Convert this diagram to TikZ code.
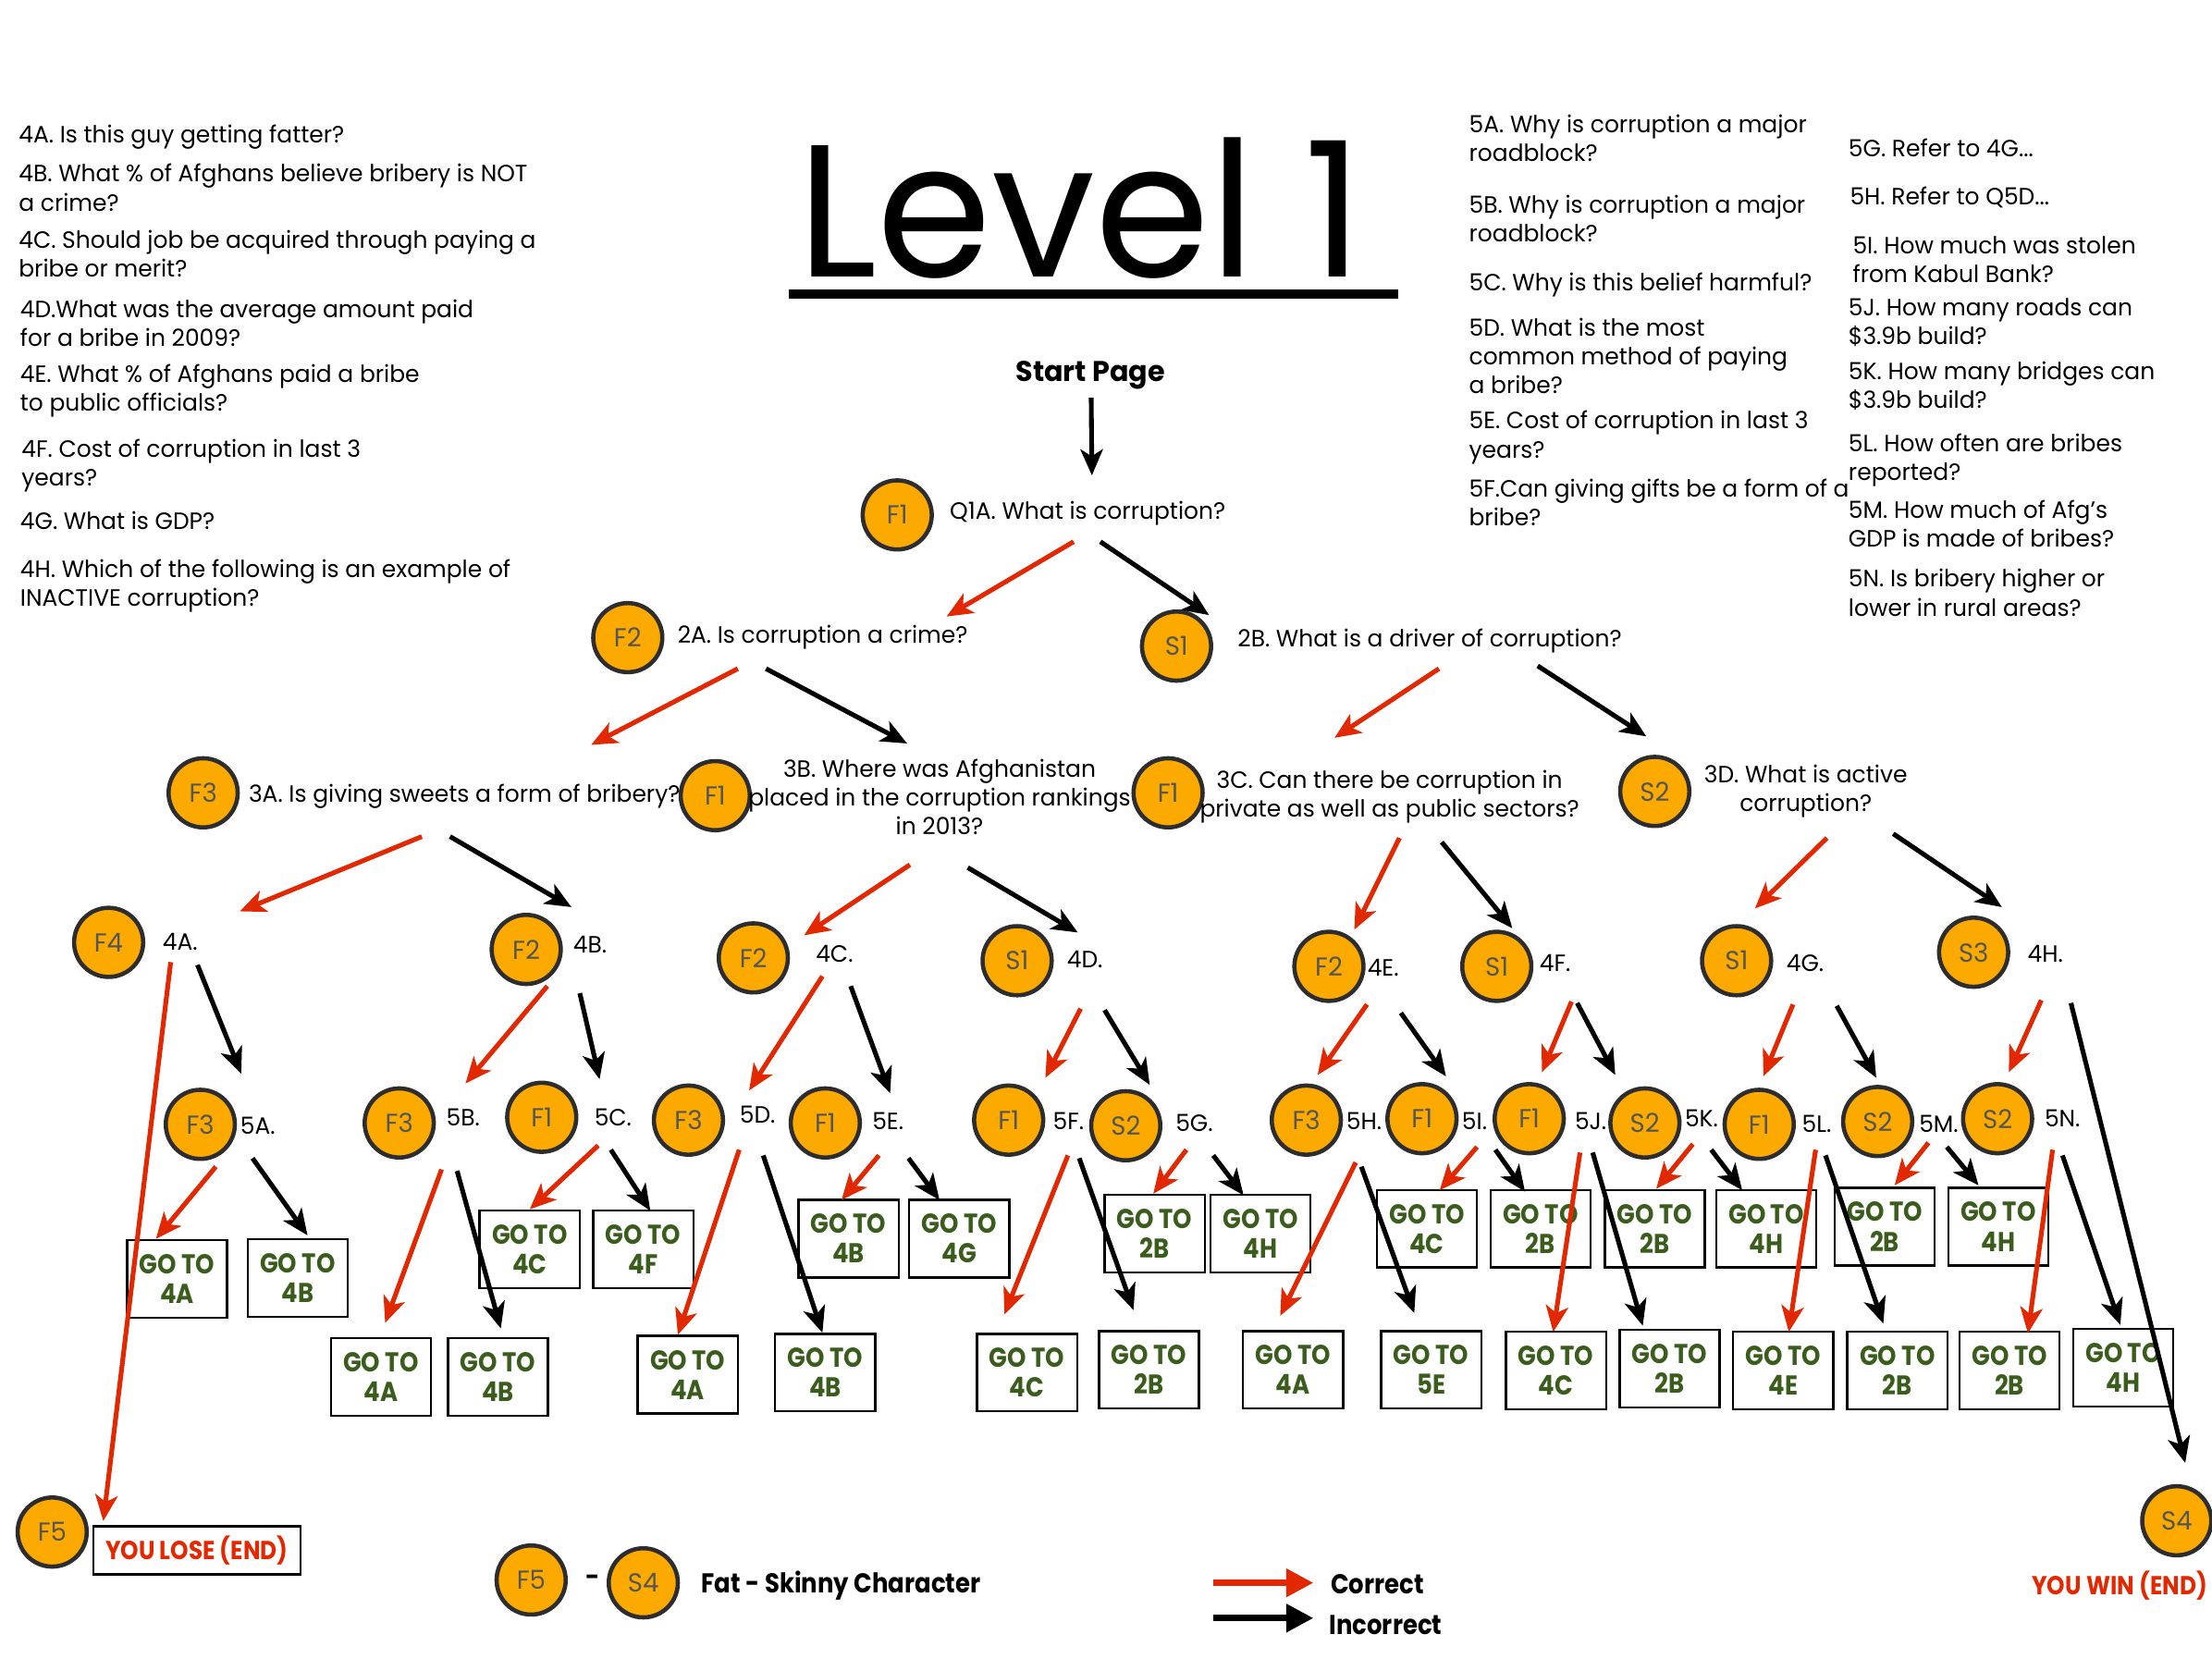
\documentclass[tikz,border=0pt]{standalone}
\usepackage{fontspec}
\setmainfont{Poppins}[FakeStretch=0.98]
\newfontfamily\narrowbold{Poppins}[FakeStretch=0.88]
\usetikzlibrary{arrows.meta}
\definecolor{charOrange}{RGB}{252,170,0}
\definecolor{ringGray}{RGB}{45,45,45}
\definecolor{tagGray}{RGB}{85,85,85}
\definecolor{okRed}{RGB}{226,40,0}
\definecolor{goGreen}{RGB}{58,92,28}
\newcommand{\qsize}{\fontsize{9.5}{11.7}\selectfont}
\newcommand{\arrowlink}[5]{\draw[#1] ([shift={#3}]#2) -- ([shift={#5}]#4);}

\begin{document}
\begin{tikzpicture}[x=0.02cm, y=-0.02cm,
  avatar/.style={circle, draw=ringGray, line width=1.7pt, fill=charOrange,
                 minimum size=0.98cm, inner sep=0pt, text=tagGray, font=\fontsize{10.5}{11}\selectfont},
  qlabel/.style={inner sep=0pt, anchor=west, font=\qsize, text height=6.6pt, text depth=0pt},
  qmulti/.style={inner sep=0pt, align=center, font=\qsize},
  side/.style={inner sep=0pt, align=left, anchor=north west, font=\qsize},
  gobox/.style={draw, line width=0.9pt, minimum width=1.42cm, minimum height=1.1cm, inner sep=0pt,
                align=center, text=goGreen, font=\narrowbold\bfseries\fontsize{11}{12}\selectfont},
  redarr/.style={draw=okRed, line width=1.9pt, -{Stealth[length=10.5pt, width=9pt, inset=2.8pt]}},
  blackarr/.style={draw=black, line width=1.9pt, -{Stealth[length=10.5pt, width=9pt, inset=2.8pt]}},
  legendarr/.style={line width=2.5pt, -{Triangle[length=11pt, width=11pt]}},
]
\useasboundingbox (0,0) rectangle (1568,1176);

% --- title ---
\node[inner sep=0pt, anchor=base west, font=\fontsize{76}{80}\selectfont] (title) at (565,196) {Level 1};
\draw[line width=4pt] (559,208.5) -- (991,208.5);
\node[font=\bfseries\fontsize{11.5}{14}\selectfont] (start) at (773,266) {Start Page};

% --- question notes, left ---
\node[side] (n4a) at (13,88) {4A. Is this guy getting fatter?};
\node[side] (n4b) at (13,116) {4B. What \% of Afghans believe bribery is NOT\\a crime?};
\node[side] (n4c) at (13,163) {4C. Should job be acquired through paying a\\bribe or merit?};
\node[side] (n4d) at (14,212) {4D.What was the average amount paid\\for a bribe in 2009?};
\node[side] (n4e) at (14,258) {4E. What \% of Afghans paid a bribe\\to public officials?};
\node[side] (n4f) at (15,311) {4F. Cost of corruption in last 3\\years?};
\node[side] (n4g) at (14,362) {4G. What is GDP?};
\node[side] (n4h) at (14,396) {4H. Which of the following is an example of\\INACTIVE corruption?};

% --- question notes, right ---
\node[side] (n5a) at (1041,81) {5A. Why is corruption a major\\roadblock?};
\node[side] (n5b) at (1041,138) {5B. Why is corruption a major\\roadblock?};
\node[side] (n5c) at (1041,193) {5C. Why is this belief harmful?};
\node[side] (n5d) at (1041,225) {5D. What is the most\\common method of paying\\a bribe?};
\node[side] (n5e) at (1041,291) {5E. Cost of corruption in last 3\\years?};
\node[side] (n5f) at (1041,339) {5F.Can giving gifts be a form of a\\bribe?};
\node[side] (n5g) at (1310,98) {5G. Refer to 4G...};
\node[side] (n5h) at (1311,132) {5H. Refer to Q5D...};
\node[side] (n5i) at (1313,167) {5I. How much was stolen\\from Kabul Bank?};
\node[side] (n5j) at (1310,211) {5J. How many roads can\\\$3.9b build?};
\node[side] (n5k) at (1310,256) {5K. How many bridges can\\\$3.9b build?};
\node[side] (n5l) at (1310,307) {5L. How often are bribes\\reported?};
\node[side] (n5m) at (1310,354) {5M. How much of Afg’s\\GDP is made of bribes?};
\node[side] (n5n) at (1310,403) {5N. Is bribery higher or\\lower in rural areas?};

% --- level 1 and 2 ---
\node[avatar] (c1a) at (636,365) {F1};
\node[qlabel] (q1a) at (673,362) {Q1A. What is corruption?};
\node[avatar] (c2a) at (445,452) {F2};
\node[qlabel] (q2a) at (480,450) {2A. Is corruption a crime?};
\node[avatar] (c2b) at (834,458) {S1};
\node[qlabel] (q2b) at (877,453) {2B. What is a driver of corruption?};

% --- level 3 ---
\node[avatar] (c3a) at (144,562) {F3};
\node[qlabel] (q3a) at (176,563) {3A. Is giving sweets a form of bribery?};
\node[avatar] (c3b) at (507,564) {F1};
\node[qmulti] (q3b) at (666,565) {3B. Where was Afghanistan\\placed in the corruption rankings\\in 2013?};
\node[avatar] (c3c) at (828,562) {F1};
\node[qmulti] (q3c) at (985,565) {3C. Can there be corruption in\\private as well as public sectors?};
\node[avatar] (c3d) at (1173,561) {S2};
\node[qmulti] (q3d) at (1280,561) {3D. What is active\\corruption?};

% --- level 4 ---
\node[avatar] (c4a) at (77,668) {F4};
\node[qlabel] (q4a) at (115,668) {4A.};
\node[avatar] (c4b) at (373,673) {F2};
\node[qlabel] (q4b) at (406,670) {4B.};
\node[avatar] (c4c) at (534,679) {F2};
\node[qlabel] (q4c) at (578,676) {4C.};
\node[avatar] (c4d) at (721,681) {S1};
\node[qlabel] (q4d) at (756,680) {4D.};
\node[avatar] (c4e) at (942,685) {F2};
\node[qlabel] (q4e) at (969,686) {4E.};
\node[avatar] (c4f) at (1061,685) {S1};
\node[qlabel] (q4f) at (1091,683) {4F.};
\node[avatar] (c4g) at (1231,681) {S1};
\node[qlabel] (q4g) at (1266,683) {4G.};
\node[avatar] (c4h) at (1399,675) {S3};
\node[qlabel] (q4h) at (1437,676) {4H.};

% --- level 5 ---
\node[avatar] (c5a) at (142,797) {F3};
\node[qlabel] (q5a) at (170,798) {5A.};
\node[avatar] (c5b) at (283,796) {F3};
\node[qlabel] (q5b) at (316,792) {5B.};
\node[avatar] (c5c) at (384,792) {F1};
\node[qlabel] (q5c) at (421,792) {5C.};
\node[avatar] (c5d) at (488,794) {F3};
\node[qlabel] (q5d) at (524,790) {5D.};
\node[avatar] (c5e) at (585,796) {F1};
\node[qlabel] (q5e) at (618,795) {5E.};
\node[avatar] (c5f) at (715,794) {F1};
\node[qlabel] (q5f) at (746,795) {5F.};
\node[avatar] (c5g) at (798,798) {S2};
\node[qlabel] (q5g) at (833,796) {5G.};
\node[avatar] (c5h) at (926,794) {F3};
\node[qlabel] (q5h) at (954,795) {5H.};
\node[avatar] (c5i) at (1008,793) {F1};
\node[qlabel] (q5i) at (1036,795) {5I.};
\node[avatar] (c5j) at (1084,793) {F1};
\node[qlabel] (q5j) at (1116,795) {5J.};
\node[avatar] (c5k) at (1166,796) {S2};
\node[qlabel] (q5k) at (1194,793) {5K.};
\node[avatar] (c5l) at (1247,797) {F1};
\node[qlabel] (q5l) at (1277,797) {5L.};
\node[avatar] (c5m) at (1331,795) {S2};
\node[qlabel] (q5m) at (1360,797) {5M.};
\node[avatar] (c5n) at (1416,793) {S2};
\node[qlabel] (q5n) at (1449,793) {5N.};

% --- go to boxes ---
\node[gobox] (g5ar) at (125.5,906.5) {GO TO\\4A};
\node[gobox] (g5aw) at (211,906) {GO TO\\4B};
\node[gobox] (g5br) at (270,976) {GO TO\\4A};
\node[gobox] (g5bw) at (353,976) {GO TO\\4B};
\node[gobox] (g5cr) at (375.5,885.5) {GO TO\\4C};
\node[gobox] (g5cw) at (456,885.5) {GO TO\\4F};
\node[gobox] (g5dr) at (487.5,974.5) {GO TO\\4A};
\node[gobox] (g5dw) at (585,973) {GO TO\\4B};
\node[gobox] (g5er) at (601.5,878) {GO TO\\4B};
\node[gobox] (g5ew) at (680,878) {GO TO\\4G};
\node[gobox] (g5fr) at (728,973) {GO TO\\4C};
\node[gobox] (g5fw) at (814.5,971) {GO TO\\2B};
\node[gobox] (g5gr) at (818.5,874.5) {GO TO\\2B};
\node[gobox] (g5gw) at (893.5,874.5) {GO TO\\4H};
\node[gobox] (g5hr) at (916.5,971) {GO TO\\4A};
\node[gobox] (g5hw) at (1014.5,971) {GO TO\\5E};
\node[gobox] (g5ir) at (1011.5,871) {GO TO\\4C};
\node[gobox] (g5iw) at (1092,871) {GO TO\\2B};
\node[gobox] (g5jr) at (1103,971.5) {GO TO\\4C};
\node[gobox] (g5jw) at (1183.5,970) {GO TO\\2B};
\node[gobox] (g5kr) at (1173,871) {GO TO\\2B};
\node[gobox] (g5kw) at (1252,871) {GO TO\\4H};
\node[gobox] (g5lr) at (1264,971.5) {GO TO\\4E};
\node[gobox] (g5lw) at (1345,971.5) {GO TO\\2B};
\node[gobox] (g5mr) at (1336,869.5) {GO TO\\2B};
\node[gobox] (g5mw) at (1416.5,869.5) {GO TO\\4H};
\node[gobox] (g5nr) at (1424.5,971.5) {GO TO\\2B};
\node[gobox] (g5nw) at (1505,969.5) {GO TO\\4H};

% --- endings ---
\node[avatar] (cf5) at (37,1086) {F5};
\node[draw, line width=0.9pt, minimum width=2.94cm, minimum height=0.68cm, inner sep=0pt, text=okRed,
      font=\narrowbold\bfseries\fontsize{10.5}{12}\selectfont] (lose) at (139.5,1099) {YOU LOSE (END)};
\node[avatar] (cs4) at (1543,1078) {S4};
\node[anchor=west, inner sep=0pt, text=okRed, font=\narrowbold\bfseries\fontsize{10.5}{12}\selectfont]
      (win) at (1440,1124) {YOU WIN (END)};

% --- legend ---
\node[avatar] (lgf5) at (376.5,1120) {F5};
\node[font=\bfseries\fontsize{10}{12}\selectfont] (lgdash) at (420,1120) {-};
\node[avatar] (lgs4) at (456,1122) {S4};
\node[anchor=west, inner sep=0pt, font=\narrowbold\bfseries\fontsize{11}{13}\selectfont] (lgfat) at (497,1124) {Fat - Skinny Character};
\node[anchor=west, inner sep=0pt, font=\narrowbold\bfseries\fontsize{11}{13}\selectfont] (lgcorr) at (943,1123) {Correct};
\node[anchor=west, inner sep=0pt, font=\narrowbold\bfseries\fontsize{11}{13}\selectfont] (lginc) at (942,1152) {Incorrect};
\draw[legendarr, okRed] ([shift={(-83,-1)}]lgcorr.west) -- ([shift={(-12,-1)}]lgcorr.west);
\draw[legendarr, black] ([shift={(-82,-5)}]lginc.west) -- ([shift={(-11,-5)}]lginc.west);

% --- arrows: start to level 2 ---
\arrowlink{blackarr}{start.center}{(0.5,16)}{q1a.west}{(101,-25)}
\arrowlink{redarr}{q1a.west}{(88,22)}{q2a.west}{(191,-13)}
\arrowlink{blackarr}{q1a.west}{(107,22)}{q2b.west}{(-20,-17)}
% --- level 2 to 3 ---
\arrowlink{redarr}{q2a.west}{(43,24)}{q3a.west}{(243,-35)}
\arrowlink{blackarr}{q2a.west}{(63,24)}{q3b.center}{(-23,-38)}
\arrowlink{redarr}{q2b.west}{(143,21)}{q3c.center}{(-39,-42)}
\arrowlink{blackarr}{q2b.west}{(213,19)}{c3d.center}{(-6,-39)}
% --- level 3 to 4 ---
\arrowlink{redarr}{q3a.west}{(123,30)}{q4a.west}{(55,-22)}
\arrowlink{blackarr}{q3a.west}{(143,30)}{q4b.west}{(-1,-27)}
\arrowlink{redarr}{q3b.center}{(-21,48)}{q4c.west}{(-8,-13)}
\arrowlink{blackarr}{q3b.center}{(20,50)}{q4d.west}{(8,-19)}
\arrowlink{redarr}{q3c.center}{(7,29)}{q4e.west}{(-9,-27)}
\arrowlink{blackarr}{q3c.center}{(37,32)}{q4f.west}{(-19,-25)}
\arrowlink{redarr}{q3d.center}{(15,33)}{q4g.west}{(-22,-39)}
\arrowlink{blackarr}{q3d.center}{(62,30)}{q4h.west}{(-18,-33)}
% --- level 4 to 5 ---
\arrowlink{redarr}{q4a.west}{(6,14)}{lose.north west}{(8,-3)}
\arrowlink{blackarr}{q4a.west}{(25,16)}{q5a.west}{(1,-37)}
\arrowlink{redarr}{q4b.west}{(-18,29)}{q5b.west}{(14,-24)}
\arrowlink{blackarr}{q4b.west}{(5,34)}{q5c.west}{(4,-27)}
\arrowlink{redarr}{q4c.west}{(5,16)}{q5d.west}{(7,-17)}
\arrowlink{blackarr}{q4c.west}{(25,23)}{q5e.west}{(13,-20)}
\arrowlink{redarr}{q4d.west}{(10,35)}{q5f.west}{(-5,-31)}
\arrowlink{blackarr}{q4d.west}{(27,36)}{q5g.west}{(-18,-27)}
\arrowlink{redarr}{q4e.west}{(0,26)}{q5h.west}{(-20,-33)}
\arrowlink{blackarr}{q4e.west}{(24,32)}{q5i.west}{(-11,-32)}
\arrowlink{redarr}{q4f.west}{(23,27)}{q5j.west}{(-23,-35)}
\arrowlink{blackarr}{q4f.west}{(27,28)}{q5k.west}{(-49,-31)}
\arrowlink{redarr}{q4g.west}{(5,29)}{q5l.west}{(-27,-34)}
\arrowlink{blackarr}{q4g.west}{(36,30)}{q5m.west}{(-30,-33)}
\arrowlink{redarr}{q4h.west}{(10,33)}{q5n.west}{(-25,-33)}
\arrowlink{blackarr}{q4h.west}{(31,35)}{cs4.center}{(6,-41)}
% --- level 5 to go to boxes ---
\arrowlink{redarr}{q5a.west}{(-17,29)}{g5ar.north}{(-15,0)}
\arrowlink{blackarr}{q5a.west}{(9,23)}{g5aw.north}{(7,-2)}
\arrowlink{redarr}{q5b.west}{(-3,37)}{g5br.north}{(3,-10)}
\arrowlink{blackarr}{q5b.west}{(8,38)}{g5bw.north}{(2,-6)}
\arrowlink{redarr}{q5c.west}{(3,20)}{g5cr.north}{(0,0)}
\arrowlink{blackarr}{q5c.west}{(12,23)}{g5cw.north}{(5,1)}
\arrowlink{redarr}{q5d.west}{(0,25)}{g5dr.north}{(-7,0)}
\arrowlink{blackarr}{q5d.west}{(17,29)}{g5dw.north}{(-2,0)}
\arrowlink{redarr}{q5e.west}{(5,24)}{g5er.north}{(-5,1)}
\arrowlink{blackarr}{q5e.west}{(26,26)}{g5ew.north}{(-14,1)}
\arrowlink{redarr}{q5f.west}{(11,24)}{g5fr.north}{(-16,-13)}
\arrowlink{blackarr}{q5f.west}{(19,26)}{g5fw.north}{(-11,-14)}
\arrowlink{redarr}{q5g.west}{(8,19)}{g5gr.north}{(-1,0)}
\arrowlink{blackarr}{q5g.west}{(27,23)}{g5gw.north}{(-12,1)}
\arrowlink{redarr}{q5h.west}{(7,29)}{g5hr.north}{(-9,-10)}
\arrowlink{blackarr}{q5h.west}{(11,32)}{g5hw.north}{(-12,-12)}
\arrowlink{redarr}{q5i.west}{(11,18)}{g5ir.north}{(9,1)}
\arrowlink{blackarr}{q5i.west}{(24,20)}{g5iw.north}{(-11,2)}
\arrowlink{redarr}{q5j.west}{(4,22)}{g5jr.north}{(-2,1)}
\arrowlink{blackarr}{q5j.west}{(13,22)}{g5jw.north}{(-19,-2)}
\arrowlink{redarr}{q5k.west}{(6,18)}{g5kr.north}{(1,0)}
\arrowlink{blackarr}{q5k.west}{(19,22)}{g5kw.north}{(-17,1)}
\arrowlink{redarr}{q5l.west}{(10,18)}{g5lr.north}{(4,1)}
\arrowlink{blackarr}{q5l.west}{(17,22)}{g5lw.north}{(-10,-5)}
\arrowlink{redarr}{q5m.west}{(7,13)}{g5mr.north}{(7,-1)}
\arrowlink{blackarr}{q5m.west}{(20,16)}{g5mw.north}{(-14,-1)}
\arrowlink{redarr}{q5n.west}{(6,22)}{g5nr.north}{(13,2)}
\arrowlink{blackarr}{q5n.west}{(13,26)}{g5nw.north}{(-2,-2)}
\end{tikzpicture}
\end{document}
